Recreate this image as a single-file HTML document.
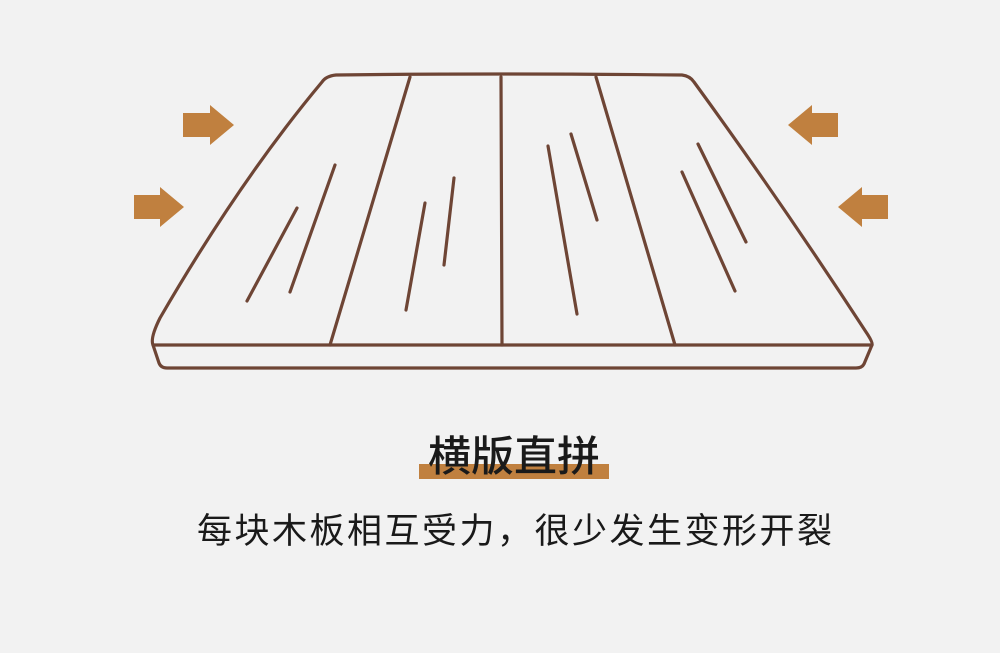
<!DOCTYPE html>
<html><head><meta charset="utf-8"><style>
html,body{margin:0;padding:0;background:#f2f2f2;}
svg{display:block}
</style></head><body>
<svg width="1000" height="653" viewBox="0 0 1000 653" xmlns="http://www.w3.org/2000/svg">
<rect width="1000" height="653" fill="#f2f2f2"/>
<g fill="none" stroke="#6e4535" stroke-width="3.2" stroke-linecap="round" stroke-linejoin="round">
<path d="M153,345 Q150,338 160,318 Q240,180 322,82 Q326,76 336,75 Q500,73 682,75 Q690,76 694,82 Q780,200 868,335 Q873,343 872,345"/>
<path d="M153,345 L872,345 L864,364 Q862,368 856,368 L167,368 Q161,368 159,363 Z"/>
<line x1="410" y1="77" x2="330" y2="345"/>
<line x1="501" y1="77" x2="502" y2="345"/>
<line x1="596" y1="77" x2="675" y2="345"/>
<line x1="297" y1="208" x2="247" y2="301"/>
<line x1="335" y1="165" x2="290" y2="292"/>
<line x1="425" y1="203" x2="406" y2="310"/>
<line x1="454" y1="178" x2="444" y2="265"/>
<line x1="548" y1="146" x2="577" y2="314"/>
<line x1="571" y1="134" x2="597" y2="220"/>
<line x1="682" y1="172" x2="735" y2="291"/>
<line x1="698" y1="144" x2="746" y2="242"/>
</g>
<g fill="#c0803f">
<polygon points="183,113 210,113 210,105 234,125 210,145 210,137 183,137"/>
<polygon points="134,195 160,195 160,187 184,207 160,227 160,219 134,219"/>
<polygon points="838,113 812,113 812,105 788,125 812,145 812,137 838,137"/>
<polygon points="888,195 862,195 862,187 838,207 862,227 862,219 888,219"/>
<rect x="419" y="464" width="190" height="15"/>
</g>
<text x="514" y="471" text-anchor="middle" font-family="Liberation Sans, Noto Sans CJK SC, sans-serif" font-size="42" font-weight="500" fill="#1a1a1a" textLength="172" lengthAdjust="spacingAndGlyphs">横版直拼</text>
<text x="197" y="543" font-family="Liberation Sans, Noto Sans CJK SC, sans-serif" font-size="35" fill="#1a1a1a" textLength="635" lengthAdjust="spacing">每块木板相互受力，很少发生变形开裂</text>
</svg>
</body></html>
